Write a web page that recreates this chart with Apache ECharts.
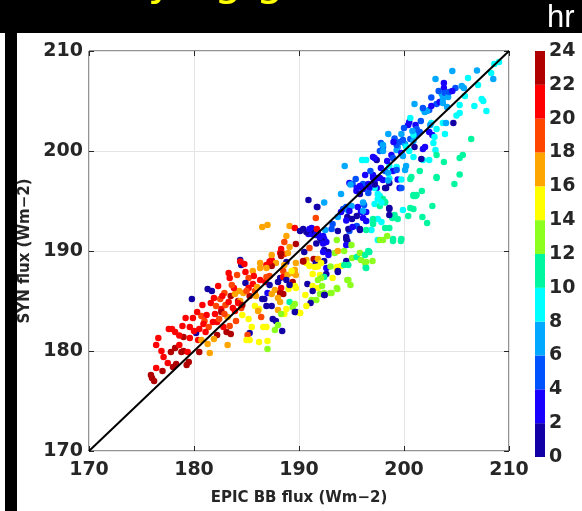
<!DOCTYPE html>
<html>
<head>
<meta charset="utf-8">
<script src="https://cdn.jsdelivr.net/npm/echarts@6/dist/echarts.min.js"></script>
<style>html,body{margin:0;padding:0;background:#fff;}#c{width:582px;height:511px;}</style>
</head>
<body>
<div id="c"></div>
<script>
// Axis ticks (Wm-2) and colour-bar levels (local hour)
const axisTicks = [170, 180, 190, 200, 210];
const oneToOne = [170, 210];
const hourLevels = [0, 2, 4, 6, 8, 10, 12, 14, 16, 18, 20, 22, 24];
const hourColors = ['#1200A6', '#1800FF', '#0052FF', '#00A8FF', '#00FFFF', '#00F7A0',
                    '#8CFF1E', '#FFFF00', '#FFA500', '#FF4500', '#FF0000', '#B00000'];

// Points: [EPIC BB flux, SYN flux, local hour]
const lowerLeftPoints = [
[176.0,177.3,23],[175.9,177.6,23],[176.4,178.3,21],[177.1,179.4,21],[177.5,178.8,21],[178.0,178.4,23],[178.3,178.7,23],[179.3,178.6,23],[179.5,178.9,23],[178.2,180.3,23],
[178.6,180.6,21],[178.8,179.9,23],[179.0,180.0,23],[179.0,181.4,23],[178.6,181.55,21],[179.6,181.3,21],[176.4,180.6,21],[176.6,181.3,21],[177.6,182.2,21],[179.2,183.3,21],
[179.9,183.3,21],[179.8,185.2,1],[180.2,181.8,1],[180.5,182.2,21],[180.7,183.5,19],[181.0,183.0,19],[180.4,181.1,21],[180.5,179.9,23],[180.7,181.1,17],[181.3,180.7,17],
[181.6,184.8,21],[181.9,185.3,21],[181.3,186.2,1],[181.7,186.0,1],[182.0,183.7,21],[182.2,182.9,21],[182.2,181.6,23],[182.6,184.2,21],[182.6,183.9,23],[182.9,185.8,19],
[182.5,185.2,19],[183.3,187.8,21],[183.2,180.6,17],[183.1,181.9,23],[183.5,181.7,23],[183.4,182.5,19],[183.7,184.3,21],[183.2,183.4,17],[183.5,185.5,23],[183.9,185.7,17],
[184.3,186.0,17],[183.8,186.3,21],[184.0,183.0,19],[184.2,185.0,23],[184.4,185.0,17],[184.4,189.1,1],[184.5,188.6,1],[184.8,188.7,21],[185.2,187.3,19],[184.9,186.8,1],
[185.2,186.3,21],[184.7,185.8,17],[184.2,184.8,21],[185.6,186.7,21],[185.8,186.0,19],[185.3,185.5,23],[185.9,185.5,17],[186.3,187.1,21],[186.3,188.3,17],[186.3,188.8,17],
[185.3,181.8,1],[185.1,181.6,19],[184.6,183.6,15],[185.2,183.2,15],[185.5,182.4,15],[185.0,181.1,15],[185.3,181.1,15],[186.2,180.9,15],[185.8,184.5,15],[186.2,184.2,15],
[186.1,184.0,17],[186.4,183.4,19],[186.5,185.2,1],[186.6,182.4,15],
[180.9,182.7,21],[181.4,182.4,19],[181.8,182.9,21],[182.4,183.2,19],[182.8,182.4,21],[183.0,184.6,19],[183.9,184.0,21],[184.5,184.3,19],[182.1,184.5,19],[181.1,181.9,21],
[180.0,182.0,21],[178.2,181.9,21],[177.9,182.2,21],[181.5,179.8,17],[179.4,179.9,21],[177.8,179.9,23],[180.8,184.6,21],[183.6,186.6,19],[184.9,187.9,21],[185.6,188.0,17],
[184.1,187.6,19],[182.3,186.5,21],[177.0,178.0,23],[176.9,180.0,21],[178.9,182.5,21],[176.2,177.0,23],
[184.4,188.95,21],[183.4,187.3,21],[186.5,192.4,17],[187.0,192.6,17],[185.0,186.0,19],[184.6,184.6,23],[183.3,184.9,21],[182.7,185.5,21],
[181.2,183.6,21],[180.3,183.9,21],[179.6,182.4,21],[181.9,181.2,17],[182.9,183.7,19],[185.7,187.5,21],[186.0,186.4,17],[186.8,186.9,21]
];

const middlePoints = [
[190.9,195.1,1],[192.4,194.85,7],[191.7,194.4,3],[191.6,193.3,19],[189.1,192.5,17],[189.6,192.3,21],[190.1,192.0,1],[191.2,192.3,3],[190.9,191.7,3],[188.8,191.5,17],
[188.6,190.9,19],[189.7,190.7,23],[189.1,190.4,17],[188.3,190.2,21],[188.2,189.8,21],[188.3,189.5,23],[187.4,189.1,21],[187.8,188.8,17],[186.9,188.6,21],[187.4,188.5,23],
[186.9,188.3,17],[188.6,189.7,19],[188.8,188.9,1],[188.6,188.6,17],[189.7,188.8,17],[189.6,188.1,17],[189.7,187.6,17],[187.2,187.5,19],[186.9,187.4,19],[188.2,187.3,1],
[188.0,186.9,1],[188.5,187.4,21],[188.5,188.0,19],[188.9,187.6,17],[189.3,187.8,17],[188.8,187.1,1],[189.4,186.9,23],[188.3,186.3,21],[187.2,186.6,1],[187.0,185.8,3],
[187.4,185.7,17],[187.7,186.1,17],[188.2,185.8,23],[188.5,185.7,23],[188.0,185.3,17],[186.7,185.2,1],[186.9,184.5,1],[187.4,184.5,1],[188.2,184.9,17],[189.0,186.2,15],
[189.6,186.5,15],[189.7,186.3,15],[189.1,186.6,1],[189.3,188.0,15],[189.1,184.9,11],[189.6,184.7,13],[189.4,184.4,13],[188.0,184.1,17],[188.8,184.2,15],[188.6,183.7,15],
[188.3,183.7,13],[189.7,183.9,1],[190.1,183.8,15],[187.5,183.2,1],[187.8,183.0,1],[188.0,182.6,13],[187.7,182.1,13],[188.4,182.0,1],[186.9,182.4,15],[187.0,181.0,15],
[187.0,180.2,13],[190.7,189.1,17],[190.7,188.8,15],[191.0,188.5,15],[190.4,189.0,23],[191.4,189.2,23],[192.4,189.0,1],[191.6,188.8,1],[191.5,188.4,15],[191.8,188.45,15],
[191.8,189.2,17],[192.1,188.8,15],[192.6,188.3,3],[192.6,187.7,1],[191.3,187.7,15],[192.0,187.6,15],[192.4,187.4,11],[191.8,187.1,13],[192.1,187.3,13],[193.2,187.3,15],
[190.8,186.7,1],[191.3,186.5,15],[191.8,186.3,15],[192.2,186.5,13],[191.3,186.0,1],[190.6,185.6,15],[192.4,185.8,13],[192.0,185.7,13],[192.4,185.6,1],[193.1,185.8,13],
[193.65,186.2,13],[191.65,185.1,13],[191.2,185.1,13],[191.1,184.8,1],[190.7,184.5,15],[193.6,188.4,15],[193.6,188.2,15],[194.0,188.5,15],[193.7,187.9,1],[193.0,188.45,13],
[193.4,189.8,13],[193.7,190.0,17],[194.3,190.0,13],[194.5,189.0,1],[194.3,188.6,11],[194.7,188.6,11],[195.05,189.3,13],[195.5,189.4,11],[195.8,189.8,13],[195.9,189.1,13],
[196.3,188.8,13],[196.35,188.35,11],[196.6,190.0,11],[196.4,188.9,13],[194.6,187.1,13],[194.9,186.6,13],[191.2,191.7,3],[191.5,191.9,1],[191.8,191.8,3],[192.3,191.5,3],
[192.4,191.2,3],[192.6,190.9,3],[192.0,191.3,1],[192.2,191.0,1],[192.5,192.1,7],[193.1,192.2,5],[193.2,192.7,5],[193.7,192.0,1],[194.8,192.0,5],[195.5,192.5,5],
[195.8,192.1,1],[194.5,191.2,1],[194.6,191.0,1],[193.6,191.1,13],[194.9,190.6,13],[192.8,189.9,1],[192.4,190.1,1],[192.3,190.75,3],[191.65,190.75,1],[194.2,194.2,5],
[194.5,194.4,5],[195.0,194.5,7],[194.7,194.0,7],[195.6,194.4,3],[195.9,193.9,3],[196.4,193.9,3],[194.6,193.4,1],[195.05,193.2,1],[196.4,193.0,9],[197.05,192.8,9],
[197.5,193.2,9],[196.2,194.6,5],[197.2,194.7,9],[196.1,194.85,7],[197.5,191.1,9],[196.9,192.1,9],
[187.4,189.6,17],[187.2,188.95,21],[188.3,189.7,23],[188.95,189.8,17],[190.5,189.9,1],[191.0,190.3,19],[190.4,188.95,23],[192.3,189.9,3],[192.8,189.6,3],[194.5,190.6,3],
[195.0,190.6,13],[196.7,189.9,11],[196.3,189.6,11],[197.0,189.0,13],[196.4,188.3,11],[194.7,187.1,13],[193.7,188.0,1],[193.6,186.3,13],[193.0,185.8,13],[192.45,185.6,1],
[190.1,183.8,15],[189.6,183.9,1]
];

const upperPoints = [
[202.6,205.35,5],[203.1,204.7,5],[201.8,204.2,9],[201.97,203.9,7],[202.4,204.1,5],[201.0,204.7,7],[200.5,202.9,3],[200.4,202.6,3],[201.1,202.6,3],[201.2,202.2,5],
[199.75,201.7,7],[200.6,203.3,9],[198.5,201.7,7],[199.6,200.9,5],[200.1,200.7,7],[200.6,201.2,5],[200.9,201.0,7],[201.2,201.6,5],[201.5,201.9,5],[200.9,201.6,9],
[202.4,201.9,3],[202.7,201.6,3],[202.9,201.4,9],[203.1,202.2,9],[202.6,202.8,9],[202.5,202.6,7],[202.0,200.4,3],[201.8,200.2,3],[201.0,200.4,1],[202.8,200.8,9],
[203.0,200.1,9],[203.1,199.6,11],[200.2,200.4,9],[200.9,199.4,9],[201.8,199.1,9],[202.4,199.1,9],[201.65,199.2,1],[197.8,200.8,5],[198.0,200.4,5],[199.1,201.25,5],
[199.3,200.8,5],[199.4,200.4,7],[199.3,200.1,7],[198.8,199.6,3],[198.95,199.3,5],[199.75,199.8,3],[197.7,200.0,5],[198.0,200.0,7],[197.05,199.4,3],[197.4,199.1,1],
[197.2,199.3,3],[196.1,199.1,9],[196.4,199.1,9],[194.35,198.5,7],[197.8,198.3,3],[198.2,198.0,5],[198.6,198.5,9],[199.3,198.4,9],[198.95,198.0,3],[199.3,198.1,5],
[200.2,198.5,7],[200.1,198.1,7],[200.7,197.4,11],[201.5,198.0,11],[203.1,197.4,11],[197.05,197.3,3],[197.7,197.3,3],[198.0,197.1,3],[198.5,197.8,7],[198.6,197.25,9],
[198.6,196.8,1],[198.3,196.3,1],[197.2,196.8,3],[197.4,196.3,3],[199.4,197.15,3],[199.6,196.3,3],[197.2,196.3,9],[196.1,196.7,5],[196.6,196.7,3],[196.7,196.3,3],
[195.8,196.5,3],[194.8,196.8,3],[195.1,196.7,5],[194.0,195.7,7],[195.5,196.3,3],[197.5,195.7,9],[197.7,195.5,9],[200.9,195.6,11],[201.2,195.6,11],
[195.47,196.0,3],[195.8,195.7,1],[196.1,196.2,3],[196.6,195.8,5],[197.05,197.6,3],[197.2,196.65,1],[197.5,197.3,3],[198.0,195.2,11],[196.1,194.0,7],[197.05,193.2,11],
[197.5,195.2,9],[197.7,194.5,11],[198.2,194.85,11],[198.6,194.2,1],[193.7,193.4,7],[194.0,193.9,3],[194.8,194.0,3],[195.5,193.5,1],[196.1,193.3,3],[196.4,193.0,3],
[194.5,193.05,3],[194.7,192.2,1],[195.1,192.4,3],[195.8,192.2,1],[196.4,192.1,11],[197.05,192.7,11],[190.4,192.2,1],[190.7,191.9,1],[191.0,192.2,3],[191.6,191.6,3],
[192.0,191.4,3],[191.7,192.2,21],[194.5,191.4,1],[198.95,191.0,11],[199.7,191.0,11],[198.0,200.6,7],[199.3,200.6,5],[199.9,201.1,5],[202.2,204.0,7],[201.8,204.3,5],
[202.6,204.5,3],[203.4,204.9,3],[194.9,196.65,7],[191.75,194.4,1],[196.0,199.1,9],
[200.0,202.3,5],[200.8,202.0,7],[201.6,203.0,5],[199.0,200.9,3],[198.4,199.0,3],[199.9,199.5,7],[200.5,200.0,9],[196.8,198.0,5],[196.3,197.6,3],[195.4,197.2,5]
];

const rightPoints = [
[204.8,196.7,11],[201.7,196.0,11],[200.9,195.5,11],[201.1,195.5,11],[202.7,194.5,11],[199.9,194.1,9],[200.6,194.3,11],[200.9,194.2,11],[200.4,193.5,11],[201.75,193.4,11],
[202.2,192.8,11],[199.1,193.6,11],[198.9,193.3,11],[199.4,193.2,11],[198.6,194.3,1],[198.6,193.6,1],[198.2,194.9,11],[197.85,194.85,9],[198.2,192.3,11],[198.6,192.3,11],
[198.96,191.2,11],[199.75,191.2,11],[198.4,191.5,13],[198.0,191.1,13],[197.7,191.1,13],[197.85,192.9,9],[199.6,196.3,3],[199.75,196.3,5],[198.2,196.3,1],[199.75,197.15,9],
[198.5,197.05,7],[200.6,197.2,11],[203.1,197.3,11]
];

const topRightPoints = [
[208.6,208.7,9],[209.05,208.9,9],[208.3,207.8,9],[208.5,207.2,7],[206.95,208.05,7],[204.6,208.0,7],[206.1,207.3,9],[207.05,206.6,9],[203.8,206.3,3],[204.9,206.3,5],
[205.5,206.5,7],[205.7,206.3,7],[203.6,205.7,7],[203.9,205.8,5],[203.7,205.2,7],[204.2,205.4,7],[205.8,205.5,9],[207.4,205.2,9],[207.55,205.0,9],[205.3,204.6,9],
[206.7,204.5,9],[207.85,204.0,9],[205.3,203.8,9],[205.0,203.55,9],[203.7,204.8,7],[204.1,204.4,7],[203.7,202.8,9],[204.0,202.8,7],[204.7,202.8,1],[203.9,201.7,9],
[206.4,201.2,11],[205.6,199.6,11],[205.3,199.3,11],[203.8,198.9,11],[205.3,197.65,11],[203.0,207.2,7],[203.8,206.8,3],[203.3,206.0,5],[204.3,205.9,5],[204.6,206.0,3]
];

const allPoints = [].concat(lowerLeftPoints, middlePoints, upperPoints, rightPoints, topRightPoints);

const FONT = 'DejaVu Sans';
const TXT = '#262626';
const chart = echarts.init(document.getElementById('c'), null, {renderer: 'canvas'});

const pieces = hourColors.map((c, i) => ({gte: hourLevels[i], lt: hourLevels[i + 1], color: c}));
const barSeries = hourColors.map((c, i) => ({
  type: 'bar', xAxisIndex: 2, yAxisIndex: 2, stack: 'cb', barWidth: '100%', silent: true,
  data: [hourLevels[i + 1] - hourLevels[i]], itemStyle: {color: c}
}));

const tickStyle = {show: true, inside: true, length: 5, lineStyle: {color: TXT, width: 1}};
const labelStyle = {fontFamily: FONT, fontWeight: 'bold', fontSize: 19, color: TXT};

const option = {
  animation: false,
  backgroundColor: '#ffffff',
  grid: [
    {left: 89, top: 51, width: 420, height: 406, show: true, borderColor: TXT, borderWidth: 1, backgroundColor: '#fff'},
    {left: 535, top: 51, width: 10, height: 406}
  ],
  visualMap: {type: 'piecewise', show: false, dimension: 2, seriesIndex: 0, pieces: pieces},
  xAxis: [
    {type: 'value', gridIndex: 0, min: axisTicks[0], max: axisTicks[axisTicks.length - 1], interval: 10,
     position: 'bottom', axisLine: {show: false}, axisTick: tickStyle,
     axisLabel: Object.assign({margin: 10}, labelStyle),
     splitLine: {show: true, lineStyle: {color: '#e4e4e4', width: 1}},
     name: 'EPIC BB flux (Wm\u22122)', nameLocation: 'middle', nameGap: 40,
     nameTextStyle: {fontFamily: FONT, fontWeight: 'bold', fontSize: 15, color: TXT}},
    {type: 'value', gridIndex: 0, min: axisTicks[0], max: axisTicks[axisTicks.length - 1], interval: 10,
     position: 'top', axisLine: {show: false}, axisTick: tickStyle, axisLabel: {show: false}, splitLine: {show: false}},
    {type: 'category', gridIndex: 1, data: ['hr'], show: false}
  ],
  yAxis: [
    {type: 'value', gridIndex: 0, min: axisTicks[0], max: axisTicks[axisTicks.length - 1], interval: 10,
     position: 'left', axisLine: {show: false}, axisTick: tickStyle,
     axisLabel: Object.assign({margin: 6}, labelStyle),
     splitLine: {show: true, lineStyle: {color: '#e4e4e4', width: 1}},
     name: 'SYN flux (Wm\u22122)', nameLocation: 'middle', nameGap: 46,
     nameTextStyle: {fontFamily: FONT, fontWeight: 'bold', fontSize: 15, color: TXT}},
    {type: 'value', gridIndex: 0, min: axisTicks[0], max: axisTicks[axisTicks.length - 1], interval: 10,
     position: 'right', axisLine: {show: false}, axisTick: tickStyle, axisLabel: {show: false}, splitLine: {show: false}},
    {type: 'value', gridIndex: 1, min: hourLevels[0], max: hourLevels[hourLevels.length - 1], interval: 2,
     position: 'right', axisLine: {show: false}, axisTick: {show: false}, splitLine: {show: false},
     axisLabel: Object.assign({margin: 4}, labelStyle)}
  ],
  series: [
    {type: 'scatter', xAxisIndex: 0, yAxisIndex: 0, symbolSize: 6.5, data: allPoints,
     itemStyle: {opacity: 1}, z: 3},
    {type: 'line', xAxisIndex: 0, yAxisIndex: 0, data: [[oneToOne[0], oneToOne[0]], [oneToOne[1], oneToOne[1]]],
     symbol: 'none', lineStyle: {color: '#000', width: 2}, z: 5, silent: true}
  ].concat(barSeries),
  graphic: [
    {type: 'rect', shape: {x: 0, y: 0, width: 582, height: 33}, style: {fill: '#000'}, z: 10},
    {type: 'rect', shape: {x: 5, y: 33, width: 12, height: 478}, style: {fill: '#000'}, z: 10},
    {type: 'text', x: 547, y: 34, z: 11, style: {text: 'hr', fill: '#fff', font: '31px "Liberation Sans"', textVerticalAlign: 'bottom'}},
    {type: 'text', x: -45, y: 6, z: 11, style: {text: 'Time varying gains, all hours', fill: '#ffff00', font: '44px "DejaVu Sans"', textVerticalAlign: 'bottom'}}
  ]
};
chart.setOption(option);
</script>
</body>
</html>
